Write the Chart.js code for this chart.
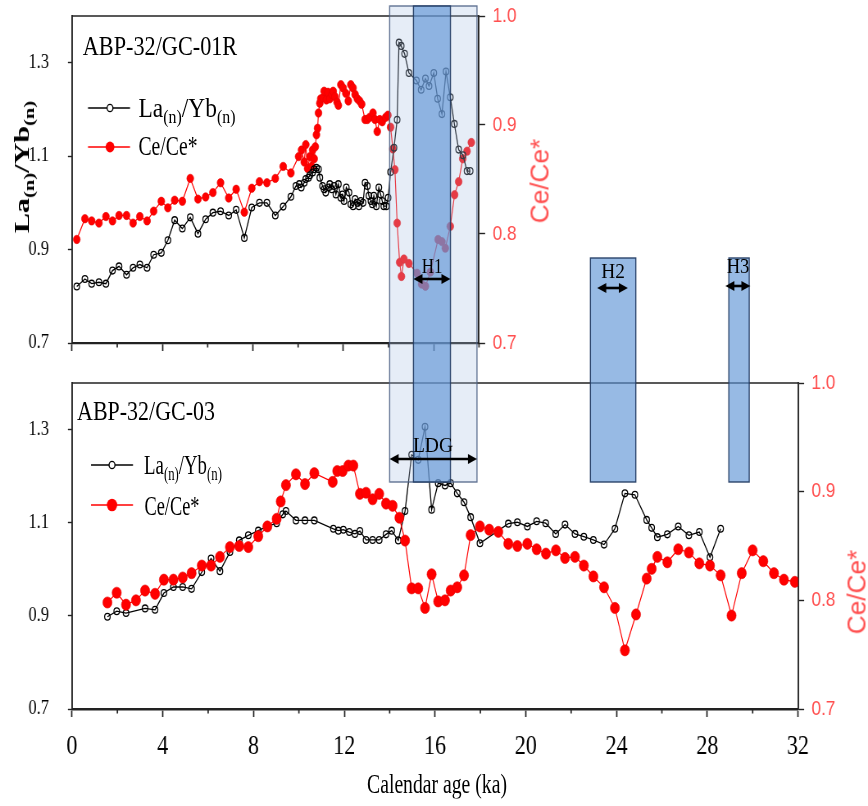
<!DOCTYPE html>
<html><head><meta charset="utf-8">
<script src="https://cdn.jsdelivr.net/npm/chart.js@4.4.0/dist/chart.umd.min.js"></script>
<style>
html,body{margin:0;padding:0;background:#fff;}
#page{position:relative;width:868px;height:806px;overflow:hidden;background:#fff;}
#wrap{position:absolute;left:0;top:0;width:1059px;height:806px;transform:scaleX(0.81964);transform-origin:0 0;}
#wrap canvas{position:absolute;left:0;top:0;}
.t{position:absolute;white-space:nowrap;line-height:1;font-family:"Liberation Serif","Times New Roman",serif;color:#000;}
.sub{font-size:0.68em;position:relative;top:0.34em;}
</style></head>
<body><div id="page"><div id="wrap"><canvas id="cTop" width="1059" height="370"></canvas><canvas id="cBot" width="1059" height="806"></canvas></div></div>
<script>
// ---------------- data ----------------
const topLaAge = [0.21,0.57,0.87,1.19,1.50,1.79,2.08,2.41,2.70,3.00,3.32,3.61,3.95,4.24,4.54,4.88,5.23,5.57,5.91,6.23,6.57,6.93,7.26,7.62,7.95,8.29,8.62,8.99,9.34,9.68,9.90,10.05,10.14,10.27,10.34,10.46,10.52,10.64,10.71,10.81,10.90,10.96,11.08,11.15,11.22,11.34,11.40,11.49,11.59,11.67,11.78,11.89,11.96,12.03,12.13,12.25,12.33,12.43,12.52,12.62,12.69,12.77,12.87,12.96,13.06,13.13,13.22,13.28,13.35,13.46,13.57,13.65,13.72,13.79,13.90,13.98,14.09,14.24,14.38,14.46,14.56,14.71,14.90,15.23,15.44,15.63,15.79,16.00,16.17,16.36,16.54,16.73,16.91,17.10,17.29,17.47,17.61];
const topLaVal = [0.821,0.837,0.827,0.830,0.827,0.855,0.864,0.846,0.861,0.868,0.861,0.889,0.893,0.920,0.963,0.945,0.969,0.934,0.965,0.979,0.982,0.973,0.985,0.925,0.990,1.000,1.000,0.973,0.992,1.013,1.036,1.040,1.033,1.043,1.051,1.054,1.059,1.065,1.072,1.075,1.072,1.054,1.036,1.029,1.022,1.033,1.040,1.029,1.036,1.018,1.040,1.011,1.018,1.004,1.033,1.022,0.997,0.993,1.008,1.000,0.993,1.004,1.000,1.043,1.036,1.015,1.004,0.997,1.015,0.993,1.033,1.018,1.004,0.993,0.993,1.011,1.066,1.118,1.178,1.343,1.336,1.319,1.278,1.262,1.242,1.266,1.250,1.278,1.223,1.190,1.281,1.226,1.169,1.114,1.102,1.068,1.068];

const topCeAge = [0.21,0.57,0.87,1.19,1.50,1.79,2.08,2.41,2.70,3.00,3.32,3.61,3.95,4.24,4.54,4.88,5.23,5.57,5.91,6.23,6.57,6.93,7.26,7.62,7.95,8.29,8.62,8.99,9.34,9.68,10.02,10.15,10.27,10.34,10.42,10.52,10.60,10.64,10.71,10.76,10.81,10.86,10.90,10.96,11.00,11.10,11.15,11.25,11.32,11.40,11.50,11.55,11.63,11.72,11.78,11.89,11.99,12.11,12.22,12.33,12.43,12.52,12.62,12.72,12.81,12.96,13.06,13.16,13.31,13.40,13.50,13.61,13.72,13.87,13.97,14.09,14.19,14.28,14.38,14.49,14.57,14.68,14.90,15.26,15.46,15.63,15.85,16.19,16.36,16.51,16.73,16.92,17.10,17.28,17.47,17.66];
const topCeVal = [0.795,0.814,0.812,0.810,0.816,0.812,0.817,0.817,0.810,0.816,0.812,0.821,0.830,0.824,0.831,0.830,0.851,0.832,0.834,0.838,0.847,0.833,0.841,0.820,0.842,0.848,0.847,0.851,0.862,0.856,0.871,0.877,0.866,0.882,0.860,0.871,0.862,0.877,0.869,0.880,0.891,0.897,0.911,0.920,0.924,0.925,0.931,0.923,0.930,0.924,0.928,0.931,0.926,0.921,0.918,0.937,0.934,0.929,0.922,0.937,0.934,0.928,0.924,0.922,0.919,0.905,0.905,0.907,0.911,0.905,0.894,0.905,0.903,0.907,0.909,0.898,0.878,0.859,0.810,0.774,0.761,0.777,0.773,0.764,0.754,0.752,0.765,0.795,0.793,0.787,0.807,0.836,0.848,0.869,0.876,0.884];

const botLaAge = [1.56,1.97,2.38,3.22,3.66,4.05,4.47,4.88,5.27,5.72,6.13,6.52,6.96,7.37,7.77,8.21,8.61,9.02,9.29,9.43,9.87,10.27,10.68,11.52,11.74,11.96,12.22,12.47,12.69,12.96,13.25,13.54,13.84,14.09,14.38,14.68,14.97,15.26,15.56,15.85,16.14,16.44,16.69,16.98,17.28,17.57,17.98,19.23,19.63,20.07,20.48,20.88,21.32,21.73,22.17,22.56,22.98,23.45,23.93,24.37,24.81,25.33,25.55,25.80,26.24,26.72,27.19,27.65,28.12,28.59];
const botLaVal = [0.898,0.910,0.906,0.916,0.913,0.949,0.962,0.962,0.958,0.994,1.023,0.996,1.037,1.062,1.073,1.083,1.092,1.099,1.118,1.125,1.105,1.105,1.105,1.087,1.083,1.085,1.080,1.076,1.082,1.063,1.063,1.063,1.075,1.083,1.062,1.125,1.246,1.235,1.306,1.128,1.185,1.180,1.185,1.163,1.144,1.112,1.056,1.098,1.101,1.092,1.103,1.099,1.076,1.096,1.076,1.070,1.063,1.053,1.087,1.163,1.160,1.106,1.089,1.069,1.075,1.092,1.073,1.080,1.026,1.087];

const botCeAge = [1.56,1.97,2.38,2.82,3.22,3.66,4.05,4.47,4.88,5.27,5.72,6.13,6.52,6.96,7.37,7.77,8.21,8.61,9.02,9.20,9.43,9.87,10.27,10.68,11.49,11.69,11.93,12.18,12.40,12.69,12.96,13.25,13.54,13.84,14.13,14.43,14.68,14.97,15.26,15.56,15.85,16.14,16.44,16.69,16.98,17.28,17.57,17.98,18.39,18.79,19.23,19.63,20.07,20.48,20.89,21.33,21.73,22.17,22.56,22.98,23.45,23.93,24.37,24.86,25.33,25.55,25.80,26.24,26.72,27.19,27.65,28.12,28.59,29.07,29.52,30.00,30.47,30.94,31.38,31.86];
const botCeVal = [0.798,0.807,0.796,0.800,0.809,0.806,0.819,0.819,0.821,0.825,0.832,0.832,0.840,0.849,0.850,0.849,0.859,0.868,0.875,0.891,0.906,0.916,0.907,0.917,0.909,0.919,0.919,0.924,0.924,0.898,0.899,0.893,0.898,0.889,0.887,0.876,0.855,0.811,0.811,0.793,0.824,0.799,0.800,0.809,0.812,0.823,0.860,0.868,0.865,0.863,0.852,0.850,0.852,0.847,0.843,0.846,0.839,0.840,0.832,0.822,0.812,0.793,0.754,0.787,0.820,0.829,0.840,0.835,0.847,0.844,0.834,0.832,0.823,0.786,0.825,0.846,0.836,0.825,0.819,0.817];

const ageTicksBottom = [0,2,4,6,8,10,12,14,16,18,20,22,24,26,28,30,32];
const ageTicksTop = [0,2,4,6,8,10,12,14,16,18];
const laTicks = [0.7,0.9,1.1,1.3];
const ceTicks = [0.7,0.8,0.9,1.0];

const bandName = ['LDG','H1','H2','H3'];
const bandFrom = [14.0,15.05,22.85,28.95];
const bandTo   = [17.85,16.68,24.85,29.85];
const arrowFrom = [14.0,15.05,23.15,28.8];
const arrowTo   = [17.85,16.68,24.5,29.9];

// ---------------- layout (screen px) ----------------
const W = 1059, S = 868 / W;
const LAY = {left:72, botRight:798, topRight:479, topTop:16, topBottom:343, topCanvasH:370, botTop:383, botBottom:709,
  bandTop:[6,6,258,258], bandBottom:482, arrowY:[459,279,288,286], labelY:[445,266,271,266]};
const SERIF = '"Liberation Serif","Times New Roman",serif';
const SANS = '"Liberation Sans",Arial,sans-serif';
const RED_TXT = '#ff4f4f';

function pts(a, v) { return a.map((x, i) => ({x: x, y: v[i]})); }
function noPad(s) { s.paddingTop = 0; s.paddingBottom = 0; s.paddingLeft = 0; s.paddingRight = 0; }

function yScale(pos, tickArr, min, max, color, font, padding, tickLen, width) {
  return {
    type:'linear', position:pos, min:min, max:max,
    afterBuildTicks: s => { s.ticks = tickArr.map(v => ({value:v})); },
    afterFit: s => { s.width = width; noPad(s); },
    ticks: {color:color, font:font, padding:padding, autoSkip:false, callback: v => Number(v).toFixed(1)},
    grid: {drawOnChartArea:false, drawTicks:true, tickLength:tickLen, tickColor:'#222', tickWidth:1.4},
    border: {display:true, color:'#222', width:1.9}
  };
}
function xScale(max, tickArr, height, showLabels, bw) {
  return {
    type:'linear', position:'bottom', min:0, max:max,
    afterBuildTicks: s => { s.ticks = tickArr.map(v => ({value:v})); },
    afterFit: s => { s.height = height; noPad(s); },
    ticks: {autoSkip:false, maxRotation:0, minRotation:0, padding:14, color:'#000',
      font:{family:SERIF, size:27}, callback: v => (showLabels && v % 4 === 0) ? String(v) : ''},
    grid: {drawOnChartArea:false, drawTicks:true, tickLength:8, tickWidth:1.7,
      tickColor: c => (c.tick && c.tick.value % 4 === 0) ? '#222' : 'rgba(0,0,0,0)'},
    border: {display:true, color:'#222', width:bw}
  };
}

const minorTicks = {id:'minorTicks', afterDraw(chart) {
  const xs = chart.scales.x, ctx = chart.ctx, a = chart.chartArea;
  ctx.save(); ctx.strokeStyle = '#222'; ctx.lineWidth = 1.7;
  xs.ticks.forEach(t => { if (t.value % 4 !== 0) {
    const px = xs.getPixelForValue(t.value);
    ctx.beginPath(); ctx.moveTo(px, a.bottom); ctx.lineTo(px, a.bottom + 4.5); ctx.stroke(); }});
  ctx.restore();
}};
const frameTop = {id:'frameTop', afterDraw(chart) {
  const a = chart.chartArea, ctx = chart.ctx;
  ctx.save(); ctx.strokeStyle = '#222'; ctx.lineWidth = 1.6;
  ctx.beginPath(); ctx.moveTo(a.left, a.top); ctx.lineTo(a.right, a.top); ctx.stroke(); ctx.restore();
}};
function legendPlugin(entries, x1, x2, xm, rLa, rCe) {
  return {id:'legendMarks', afterDraw(chart) {
    const ctx = chart.ctx;
    ctx.save();
    entries.forEach(e => {
      const la = e.k === 'la';
      ctx.strokeStyle = la ? '#000' : '#ff0000'; ctx.lineWidth = 1.4;
      ctx.beginPath(); ctx.moveTo(x1 / S, e.y); ctx.lineTo(x2 / S, e.y); ctx.stroke();
      ctx.beginPath(); ctx.arc(xm / S, e.y, la ? rLa : rCe, 0, Math.PI * 2);
      if (la) { ctx.fillStyle = '#fff'; ctx.fill(); ctx.lineWidth = 1.4; ctx.stroke(); }
      else { ctx.fillStyle = '#ff0000'; ctx.fill(); }
    });
    ctx.restore();
  }};
}
function arrow(ctx, x1, x2, y) {
  const hl = 11, hw = 5;
  ctx.beginPath(); ctx.moveTo(x1 + hl - 1, y); ctx.lineTo(x2 - hl + 1, y); ctx.lineWidth = 2.6; ctx.strokeStyle = '#000'; ctx.stroke();
  ctx.fillStyle = '#000';
  ctx.beginPath(); ctx.moveTo(x1, y); ctx.lineTo(x1 + hl, y - hw); ctx.lineTo(x1 + hl, y + hw); ctx.closePath(); ctx.fill();
  ctx.beginPath(); ctx.moveTo(x2, y); ctx.lineTo(x2 - hl, y - hw); ctx.lineTo(x2 - hl, y + hw); ctx.closePath(); ctx.fill();
}
// bands are drawn on the bottom (upper-layer, full-height) canvas, using its age axis
const bandsPlugin = {id:'bands', afterDraw(chart) {
  const xs = chart.scales.x, ctx = chart.ctx;
  ctx.save();
  for (let i = 0; i < bandName.length; i++) {
    const x1 = xs.getPixelForValue(bandFrom[i]), x2 = xs.getPixelForValue(bandTo[i]);
    const y1 = LAY.bandTop[i], y2 = LAY.bandBottom;
    ctx.fillStyle = i === 0 ? 'rgba(172,195,228,0.30)' : 'rgba(96,149,213,0.65)';
    ctx.fillRect(x1, y1, x2 - x1, y2 - y1);
    ctx.strokeStyle = i === 0 ? 'rgba(80,100,135,0.9)' : 'rgba(35,60,100,0.95)';
    ctx.lineWidth = 1.4;
    ctx.strokeRect(x1, y1, x2 - x1, y2 - y1);
  }
  for (let i = 0; i < bandName.length; i++) {
    arrow(ctx, xs.getPixelForValue(arrowFrom[i]), xs.getPixelForValue(arrowTo[i]), LAY.arrowY[i]);
  }
  ctx.restore();
}};

function laSet(a, v, order) {
  return {label:'La(n)/Yb(n)', data:pts(a, v), yAxisID:'yL', borderColor:'#000', borderWidth:1.3,
    pointRadius:3.4, pointBorderWidth:1.3, pointBorderColor:'#000', pointBackgroundColor:'rgba(255,255,255,0)',
    tension:0, fill:false, order:order};
}
function ceSet(a, v, r, order) {
  return {label:'Ce/Ce*', data:pts(a, v), yAxisID:'yR', borderColor:'#ff0000', borderWidth:1.2,
    pointRadius:r, pointBorderWidth:0.6, pointBorderColor:'#e80000', pointBackgroundColor:'#ff0000',
    tension:0, fill:false, order:order};
}
const common = {responsive:false, animation:false, devicePixelRatio:1, events:[],
  plugins:{legend:{display:false}, tooltip:{enabled:false}}};

const topChart = new Chart(document.getElementById('cTop'), {
  type:'line',
  data:{datasets:[laSet(topLaAge, topLaVal, 0), ceSet(topCeAge, topCeVal, 4.2, 1)]},
  options:Object.assign({}, common, {
    layout:{padding:{top:LAY.topTop, left:0, right:0, bottom:0}},
    scales:{
      x: xScale(18, ageTicksTop, LAY.topCanvasH - LAY.topBottom, false, 2.2),
      yL: yScale('left', laTicks, 0.7, 1.4, '#000', {family:SERIF, size:20}, 23, 5, LAY.left / S),
      yR: yScale('right', ceTicks, 0.7, 1.0, RED_TXT, {family:SANS, size:21}, 9, 7.5, W - LAY.topRight / S)
    }
  }),
  plugins:[minorTicks, frameTop, legendPlugin([{k:'la', y:108}, {k:'ce', y:147}], 88, 130, 110, 3.6, 5.4)]
});

const botChart = new Chart(document.getElementById('cBot'), {
  type:'line',
  data:{datasets:[ceSet(botCeAge, botCeVal, 5.6, 0), laSet(botLaAge, botLaVal, 1)]},
  options:Object.assign({}, common, {
    layout:{padding:{top:LAY.botTop, left:0, right:0, bottom:0}},
    scales:{
      x: xScale(32, ageTicksBottom, 806 - LAY.botBottom, true, 2.6),
      yL: yScale('left', laTicks, 0.7, 1.4, '#000', {family:SERIF, size:20}, 23, 5, LAY.left / S),
      yR: yScale('right', ceTicks, 0.7, 1.0, RED_TXT, {family:SANS, size:21}, 9, 7.5, W - LAY.botRight / S)
    }
  }),
  plugins:[minorTicks, frameTop, legendPlugin([{k:'la', y:465}, {k:'ce', y:505}], 91, 133, 112, 3.6, 6.3), bandsPlugin]
});

// ---------------- HTML text ----------------
const page = document.getElementById('page');
function addText(html, o) {
  const d = document.createElement('div');
  d.className = 't'; d.innerHTML = html;
  d.style.fontSize = o.size + 'px';
  if (o.family) d.style.fontFamily = o.family;
  if (o.bold) d.style.fontWeight = 'bold';
  if (o.color) d.style.color = o.color;
  page.appendChild(d);
  const w = d.offsetWidth;
  const sx = o.width ? o.width / w : (o.sx || 1);
  let cx = o.x;
  if (o.anchor === 'left') cx = o.x + w * sx / 2;
  d.style.left = cx + 'px'; d.style.top = o.y + 'px';
  d.style.transform = 'translate(-50%,-50%) rotate(' + (o.rot || 0) + 'deg) scale(' + sx + ',' + (o.sy || 1) + ')';
  return d;
}
const sub = s => '<span class="sub">' + s + '</span>';

addText('ABP-32/GC-01R', {x:83, y:46, size:28, width:154, anchor:'left'});
addText('ABP-32/GC-03', {x:77, y:411, size:28, width:138, anchor:'left'});
addText('La' + sub('(n)') + '/Yb' + sub('(n)'), {x:138, y:108, size:28, width:97, anchor:'left'});
addText('Ce/Ce*', {x:138, y:146, size:28, width:59, anchor:'left'});
addText('La' + sub('(n)') + '/Yb' + sub('(n)'), {x:144, y:465, size:27, width:78, anchor:'left'});
addText('Ce/Ce*', {x:144, y:506, size:27, width:55, anchor:'left'});
addText('La' + sub('(n)') + '/Yb' + sub('(n)'), {x:22, y:167, size:22, bold:true, width:133, rot:-90});
addText('Ce/Ce*', {x:540, y:181, size:25, family:SANS, color:RED_TXT, width:85, rot:-90});
addText('Ce/Ce*', {x:857, y:592, size:25, family:SANS, color:RED_TXT, width:85, rot:-90});
addText('Calendar age (ka)', {x:437, y:784, size:27, width:140});

const xsBot = botChart.scales.x;
const labelW = [40, 21, 24, 23];
for (let i = 0; i < bandName.length; i++) {
  const cx = xsBot.getPixelForValue((arrowFrom[i] + arrowTo[i]) / 2) * S;
  addText(bandName[i], {x:cx, y:LAY.labelY[i], size:21, width:labelW[i]});
}
</script>
</body></html>
